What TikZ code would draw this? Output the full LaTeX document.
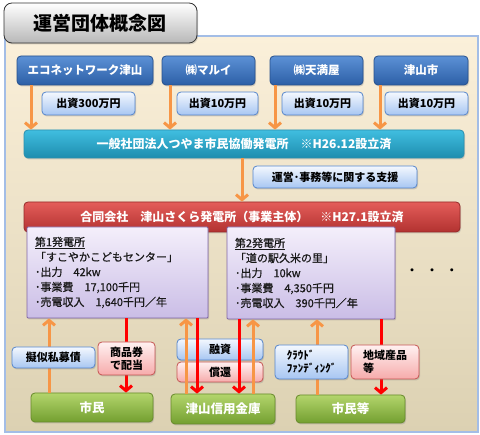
\documentclass[tikz,border=0pt]{standalone}
\usepackage{fontspec}
\setmainfont{Noto Sans CJK JP}
\newfontfamily\medfont{Noto Sans CJK JP}[FakeBold=0.6]
\usetikzlibrary{arrows.meta,shadows}
\definecolor{panelTop}{HTML}{FBF0DA}
\definecolor{panelBot}{HTML}{DCD1B2}
\definecolor{panelBorder}{HTML}{A3BDE6}
\definecolor{blueTop}{HTML}{5C91D6}
\definecolor{blueBot}{HTML}{2C5FA6}
\definecolor{blueBorder}{HTML}{27508C}
\definecolor{lbTop}{HTML}{F4F8FE}
\definecolor{lbBot}{HTML}{A7C6F2}
\definecolor{lbBorder}{HTML}{5585CC}
\definecolor{tealTop}{HTML}{40BEE0}
\definecolor{tealBot}{HTML}{1E8DAE}
\definecolor{tealBorder}{HTML}{2B8FAE}
\definecolor{redTop}{HTML}{E45D5A}
\definecolor{redBot}{HTML}{B23230}
\definecolor{redBorder}{HTML}{952A28}
\definecolor{purTop}{HTML}{F4EFFB}
\definecolor{purBot}{HTML}{CABDE6}
\definecolor{purBorder}{HTML}{8066A6}
\definecolor{pinkTop}{HTML}{FFF1F1}
\definecolor{pinkBot}{HTML}{F6ABAB}
\definecolor{pinkBorder}{HTML}{C65552}
\definecolor{grnTop}{HTML}{B3D56C}
\definecolor{grnBot}{HTML}{739F30}
\definecolor{grnBorder}{HTML}{67892B}
\definecolor{orangeA}{HTML}{F79646}
\definecolor{arrRed}{HTML}{FF0000}
\newcommand\myfs[2]{\fontsize{#1}{#2}\selectfont}
\tikzset{
  shad/.style={drop shadow={opacity=0.3, shadow xshift=1pt, shadow yshift=-1.5pt}},
  basebox/.style={rounded corners=4pt, inner sep=0pt, align=center, line width=0.8pt, shad},
  titlebox/.style={basebox, rounded corners=8pt, top color=white, bottom color=black!28, draw=black!80, font=\myfs{19}{22}\bfseries},
  bluebox/.style={basebox, top color=blueTop, bottom color=blueBot, draw=blueBorder, text=white, font=\myfs{11.5}{14}\bfseries},
  lbbox/.style={basebox, top color=lbTop, bottom color=lbBot, draw=lbBorder, text=black, font=\myfs{11}{13}\bfseries},
  pinkbox/.style={basebox, top color=pinkTop, bottom color=pinkBot, draw=pinkBorder, text=black, font=\myfs{11}{13}\bfseries},
  tealbar/.style={basebox, top color=tealTop, bottom color=tealBot, draw=tealBorder, text=white, font=\myfs{12}{14}\bfseries},
  redbar/.style={basebox, top color=redTop, bottom color=redBot, draw=redBorder, text=white, font=\myfs{12}{14}\bfseries},
  purbox/.style={basebox, rounded corners=1pt, top color=purTop, bottom color=purBot, draw=purBorder, text=black!90, align=left, inner xsep=8pt, font=\medfont\myfs{11}{15}},
  grnbox/.style={basebox, top color=grnTop, bottom color=grnBot, draw=grnBorder, text=white, font=\myfs{12.5}{14}\bfseries},
  oarr/.style={draw=orangeA, line width=3pt, -{Straight Barb[length=5pt,width=12pt]}},
  rarr/.style={draw=arrRed, line width=3pt, -{Straight Barb[length=5pt,width=12pt]}}
}
\begin{document}
\begin{tikzpicture}[x=1pt,y=-1pt]
\useasboundingbox (0,0) rectangle (480,435);
% panel
\draw[top color=panelTop, bottom color=panelBot, draw=panelBorder, line width=1.5pt] (5,36) rectangle (478,432);
% title
\node[titlebox, minimum width=193pt, minimum height=40pt] (title) at (100.5,23) {運営団体概念図};
% top investors
\node[bluebox, minimum width=136pt, minimum height=29pt] (eco) at (85,70.5) {エコネットワーク津山};
\node[bluebox, minimum width=93pt, minimum height=29pt] (marui) at (208.5,70.5) {㈱マルイ};
\node[bluebox, minimum width=93pt, minimum height=29pt] (tenmaya) at (316.5,70.5) {㈱天満屋};
\node[bluebox, minimum width=94pt, minimum height=29pt] (tsuyama) at (421,70.5) {津山市};
\node[lbbox, minimum width=93pt, minimum height=23pt] (s1) at (88.5,103.5) {出資300万円};
\node[lbbox, minimum width=81pt, minimum height=23pt] (s2) at (217.5,103.5) {出資10万円};
\node[lbbox, minimum width=81pt, minimum height=23pt] (s3) at (322.5,103.5) {出資10万円};
\node[lbbox, minimum width=83pt, minimum height=23pt] (s4) at (426.5,103.5) {出資10万円};
% bars
\node[tealbar, minimum width=440pt, minimum height=28pt] (teal) at (244,144) {一般社団法人つやま市民協働発電所　※H26.12設立済};
\node[lbbox, minimum width=164pt, minimum height=22pt] (support) at (335,177) {運営･事務等に関する支援};
\node[redbar, minimum width=436pt, minimum height=30pt] (red) at (242,217) {合同会社　津山さくら発電所（事業主体）　※H27.1設立済};
% plants
\node[purbox, minimum width=181pt, minimum height=91pt, text width=165pt] (p1) at (117.5,272.5) {\underline{第1発電所}\\「すこやかこどもセンター」\\･出力　42kw\\･事業費　17,100千円\\･売電収入　1,640千円／年};
\node[purbox, minimum width=168pt, minimum height=92pt, text width=152pt] (p2) at (311,273) {\underline{第2発電所}\\「道の駅久米の里」\\･出力　10kw\\･事業費　4,350千円\\･売電収入　390千円／年};
\node[font=\myfs{11}{13}\bfseries] (dots) at (432,272) {・\hspace{9pt}・\hspace{9pt}・};
% bottom
\node[grnbox, minimum width=122pt, minimum height=29pt] (shimin) at (92,407.5) {市民};
\node[grnbox, minimum width=104pt, minimum height=30pt] (shinkin) at (223,409) {津山信用金庫};
\node[grnbox, minimum width=109pt, minimum height=28pt] (shiminra) at (350.5,409) {市民等};
\node[lbbox, minimum width=86pt, minimum height=21pt] (yushi) at (220,349.5) {融資};
\node[pinkbox, minimum width=86pt, minimum height=20pt] (shokan) at (220,372) {償還};
% connectors
\draw[oarr] (31,0 |- eco.south) -- (31,0 |- teal.north);
\draw[oarr] (170,0 |- marui.south) -- (170,0 |- teal.north);
\draw[oarr] (275,0 |- tenmaya.south) -- (275,0 |- teal.north);
\draw[oarr] (380,0 |- tsuyama.south) -- (380,0 |- teal.north);
\draw[oarr] (242,0 |- teal.south) -- (242,0 |- red.north);
\draw[oarr] (49,0 |- shimin.north) -- (49,0 |- p1.south);
\draw[rarr] (126,0 |- p1.south) -- (126,0 |- shimin.north);
\draw[oarr] (186,0 |- shinkin.north) -- (186,0 |- p1.south);
\draw[rarr] (197,0 |- p1.south) -- (197,0 |- shinkin.north);
\draw[rarr] (239,0 |- p2.south) -- (239,0 |- shinkin.north);
\draw[oarr] (253,0 |- shinkin.north) -- (253,0 |- p2.south);
\draw[oarr] (317,0 |- shiminra.north) -- (317,0 |- p2.south);
\draw[rarr] (381,0 |- p2.south) -- (381,0 |- shiminra.north);
% labels over connectors
\node[lbbox, minimum width=83pt, minimum height=21pt] (giji) at (53.5,357.5) {擬似私募債};
\node[pinkbox, minimum width=57pt, minimum height=33pt] (shohin) at (126.5,358.5) {商品券\\で配当};
\node[lbbox, minimum width=73pt, minimum height=34pt, align=left] (crowd) at (311.5,362) {ｸﾗｳﾄﾞ\\ﾌｧﾝﾃﾞｨﾝｸﾞ};
\node[pinkbox, minimum width=68pt, minimum height=34pt, align=left] (chiiki) at (385,362) {地域産品\\等};
\end{tikzpicture}
\end{document}
